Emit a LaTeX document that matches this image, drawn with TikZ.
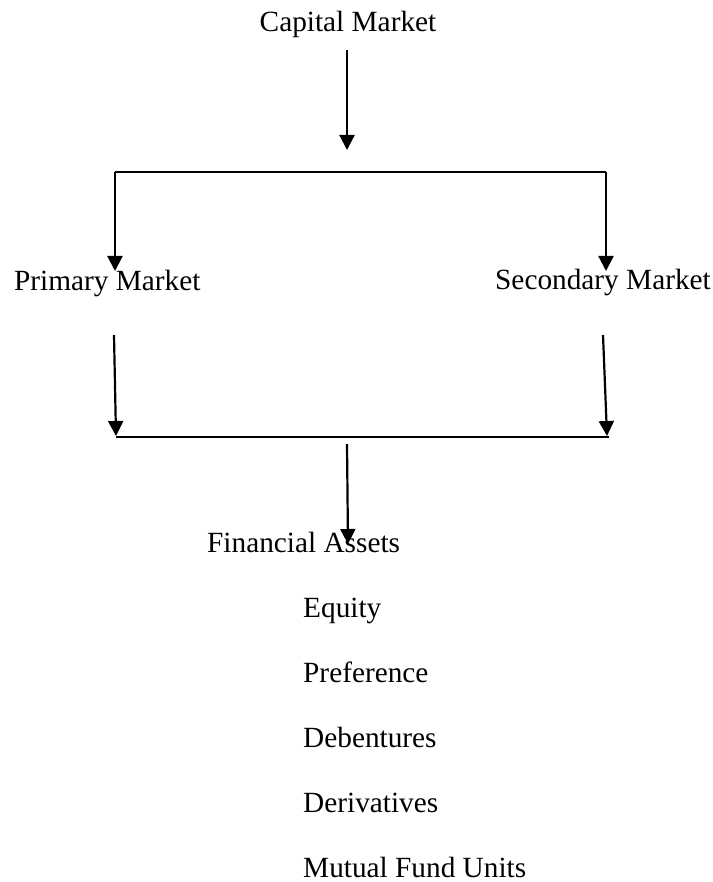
\documentclass[tikz,border=0pt]{standalone}
\usepackage{fontspec}
\setmainfont{Liberation Serif}
\usetikzlibrary{arrows.meta}
\begin{document}
\begin{tikzpicture}[x=1pt,y=-1pt,
  lbl/.style={inner sep=0pt,font=\fontsize{29.3}{35}\selectfont},
  arr/.style={line width=2.2pt,-{Triangle[width=15pt,length=15pt]}},
  bar/.style={line width=1.7pt}]
\useasboundingbox (0,0) rectangle (712,882);
\node[lbl,anchor=base] (cap) at (348,32) {Capital Market};
\node[lbl,anchor=base west] (prim) at (14,290) {Primary Market};
\node[lbl,anchor=base west] (sec) at (495,289) {Secondary Market};
\node[lbl,anchor=base west] (fa) at (207,552) {Financial Assets};
\node[lbl,anchor=base west] (eq) at (303,617) {Equity};
\node[lbl,anchor=base west] (pr) at (303,682) {Preference};
\node[lbl,anchor=base west] (de) at (303,747.5) {Debentures};
\node[lbl,anchor=base west] (dv) at (303,812.5) {Derivatives};
\node[lbl,anchor=base west] (mf) at (303,877.5) {Mutual Fund Units};
% coordinates
\coordinate (a1s) at (347,50);
\coordinate (a1e) at (347,150);
\coordinate (h1l) at (115,172);
\coordinate (h1r) at (606,172);
\coordinate (pl) at (115,271);
\coordinate (sr) at (606,271);
\coordinate (l2s) at (114,335);
\coordinate (l2e) at (116,436);
\coordinate (r2s) at (603,335);
\coordinate (r2e) at (607,436);
\coordinate (h2l) at (116,437);
\coordinate (h2r) at (609,437);
\coordinate (c3s) at (347,444);
\coordinate (c3e) at (348,544);
% connectors
\draw[arr] (a1s) -- (a1e);
\draw[bar] (h1l) -- (h1r);
\draw[arr] (h1l) -- (pl);
\draw[arr] (h1r) -- (sr);
\draw[arr] (l2s) -- (l2e);
\draw[arr] (r2s) -- (r2e);
\draw[bar] (h2l) -- (h2r);
\draw[arr] (c3s) -- (c3e);
\end{tikzpicture}
\end{document}
